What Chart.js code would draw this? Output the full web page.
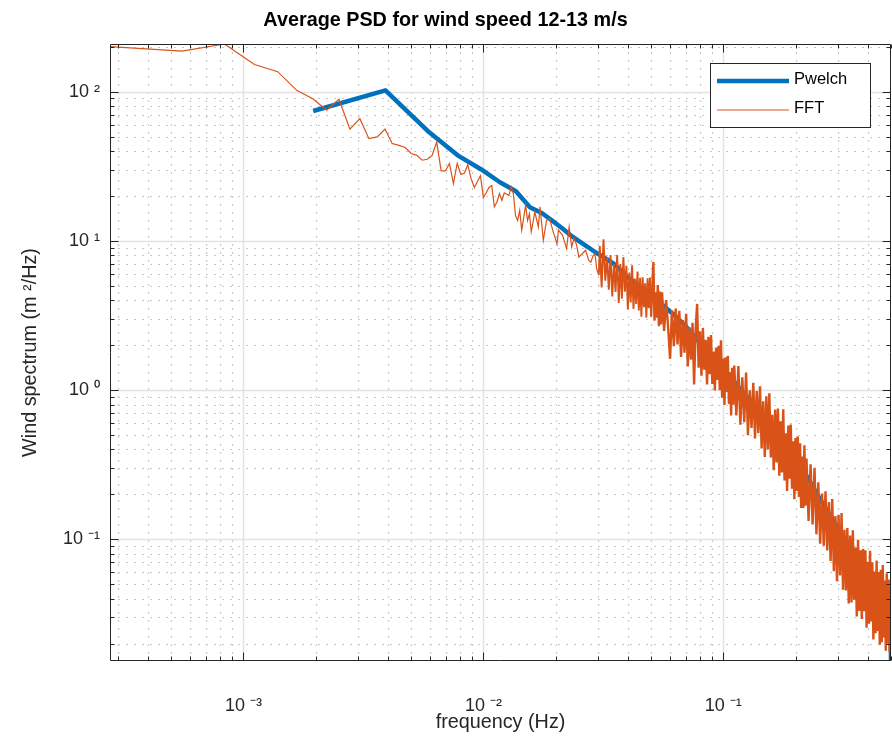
<!DOCTYPE html>
<html>
<head>
<meta charset="utf-8">
<script src="https://cdn.jsdelivr.net/npm/chart.js@4"></script>
<style>
html,body{margin:0;padding:0;background:#fff;}
#wrap{width:892px;height:740px;position:relative;}
</style>
</head>
<body>
<div id="wrap"><canvas id="c" width="892" height="740"></canvas></div>
<script>
// ---------------- data ----------------
const chartTitle = 'Average PSD for wind speed 12-13 m/s';
const xAxisTitle = 'frequency (Hz)';
const yAxisTitle = 'Wind spectrum (m ²/Hz)';
const seriesNames = ['Pwelch', 'FFT'];
const xTickValues = [1e-3, 1e-2, 1e-1];
const xTickLabels = ['10 ⁻³', '10 ⁻²', '10 ⁻¹'];
const yTickValues = [1e-1, 1, 10, 100];
const yTickLabels = ['10 ⁻¹', '10 ⁰', '10 ¹', '10 ²'];
const xRange = [1 / 3600, 0.5];
const yRange = [0.0153, 208.5];

// FFT of a 3600 s record: bin k is at k/3600 Hz
const fftBinWidthHz = 1 / 3600;
const fftBin = [
  1,2,3,4,5,6,7,8,9,10,
  11,12,13,14,15,16,17,18,19,20,
  21,22,23,24,25,26,27,28,29,30,
  31,32,33,34,35,36,37,38,39,40,
  41,
  42,43,44,46,47,48,49,50,51,52,
  54,55,56,57,59,61,62,64,66,68,
  70,73,74,77,80,82,84,86,88,90,
  93,96,99,101,103,105,107,109,
  110,112,114,116,118,120,122,124,126,128,
  130,132,134,136,138,140,142,144,146,148,
  150,152,154,156,158,160,162,164,166,168,
  170,172,174,176,178,180,182,184,186,188,
  190,192,194,196,198,200,
  204,208,212,216,220,224,228,232,236,240,
  244,248,252,256,260,264,268,272,276,280,
  284,288,292,296,300,304,308,312,316,320,
  324,328,332,336,340,344,348,352,356,360,
  364,368,372,376,380,384,388,392,396,400,
  408,416,424,432,440,448,456,464,472,480,
  488,496,504,512,520,528,536,544,552,560,
  568,576,584,592,600,608,616,624,632,640,
  648,656,664,672,680,688,696,704,712,720,
  728,736,744,752,760,768,776,784,792,800,
  816,832,848,864,880,896,912,928,944,960,
  976,992,1008,1024,1040,1056,1072,1088,1104,1120,
  1136,1152,1168,1184,1200,1216,1232,1248,1264,1280,
  1296,1312,1328,1344,1360,1376,1392,1408,1424,1440,
  1456,1472,1488,1504,1520,1536,1552,1568,1584,1600,
  1616,1632,1648,1664,1680,1696,1712,1728,1744,1760,
  1776,1792,1800
];
const fftPsd = [
  200,187,208.5,152,136,102,89.7,75,88.8,56,
  65.9,48.4,49.7,56.2,44.9,43.6,42.2,38.5,37.4,34.7,
  35.2,37.4,45.9,29.4,29.4,33,24.2,33,27.9,28.5,
  32.4,26,22.8,25,27.3,19.5,21,22.8,23.5,16.9,
  18.2,
  20.7,18.7,21.0,20.2,23.0,20.7,14.8,13.7,16.0,11.8,
  17.3,13.7,15.2,11.5,15.6,12.4,16.9,10.1,13.7,14.1,
  11.8,9.55,11.8,10.9,8.87,12.4,9.1,10.4,9.4,7.8,
  8.2,8.65,7.4,7.2,7.9,8.2,6.4,5.9,
  9.24,4.87,10.23,5.40,7.76,4.70,8.03,4.24,6.99,4.55,
  8.05,3.83,7.00,4.10,7.78,4.56,6.80,3.47,6.13,3.87,
  6.85,3.50,5.60,3.78,6.24,3.42,5.65,3.10,5.70,3.59,
  5.19,3.06,5.62,3.54,5.68,3.12,4.83,7.22,2.92,4.52,
  3.06,5.06,2.68,4.57,2.75,4.52,
  2.49,4.01,2.63,1.62,3.43,1.97,3.52,2.02,3.40,1.67,
  2.95,1.78,3.25,1.44,2.64,1.60,2.82,1.09,2.54,3.78,
  1.41,2.48,1.25,2.61,1.37,2.17,1.09,2.28,1.28,2.34,
  1.10,1.81,0.993,1.93,1.17,1.97,1.00,2.16,0.890,1.63,
  0.795,1.66,0.970,1.70,0.807,1.32,0.676,1.41,0.798,1.46,
  0.677,1.45,0.587,1.22,0.610,1.31,0.499,0.997,0.558,1.12,
  0.475,0.986,0.514,1.06,0.406,0.842,0.357,0.909,0.400,0.953,
  0.353,0.682,0.290,0.742,0.327,0.753,0.267,0.618,0.281,0.743,
  0.248,0.514,0.211,0.579,0.255,0.587,0.218,0.454,0.186,0.478,
  0.211,0.488,0.192,0.440,0.162,0.359,0.162,0.427,0.168,0.348,
  0.133,0.318,0.126,0.302,0.108,0.241,0.0936,0.203,0.0906,0.210,
  0.0843,0.178,0.0715,0.186,0.0612,0.143,0.0524,0.146,0.0573,0.150,
  0.0460,0.116,0.0455,0.119,0.0372,0.106,0.0377,0.115,0.0394,0.0881,
  0.0304,0.0990,0.0331,0.0846,0.0293,0.0863,0.0330,0.0845,0.0256,0.0708,
  0.0272,0.0838,0.0282,0.0701,0.0213,0.0609,0.0235,0.0721,0.0243,0.0605,
  0.0197,0.0625,0.0204,0.0673,0.0220,0.0530,0.0179,0.0593,0.0200,0.0537,
  0.0176,0.0456,0.0269
];

// Welch estimate with 512-sample segments: bin k is at k/512 Hz
const pwelchBinWidthHz = 1 / 512;
const pwelchBin = [1,2,3,4,5,6,7,8,9,10,11,12,13,14,15,16,18,20,22,24,26,28,32,36,40,45,51,57,64,72,80,90,100,114,128,144,160,180,200,228,255,256];
const pwelchPsd = [74.2,102,54.5,37.4,30.2,24.7,21.5,16.8,15.3,13.5,12.0,10.7,9.8,9.06,8.39,7.89,6.97,5.89,5.2,4.59,4.19,3.82,3.18,2.64,2.16,1.71,1.38,1.13,0.91,0.733,0.591,0.462,0.361,0.265,0.192,0.141,0.107,0.0809,0.0622,0.0471,0.0392,0.0153];

// ---------------- styling ----------------
const FONT = '"Liberation Sans", Arial, Helvetica, sans-serif';
const axisColor = '#262626';
const blue = '#0072BD';
const orange = '#D95319';

Chart.defaults.font.family = FONT;
Chart.defaults.color = axisColor;

function decadeTicks(min, max) {
  const major = [], minor = [];
  for (let e = Math.floor(Math.log10(min)); e <= Math.ceil(Math.log10(max)); e++) {
    for (let m = 1; m <= 9; m++) {
      const v = m * Math.pow(10, e);
      if (v < min * 0.9999 || v > max * 1.0001) continue;
      (m === 1 ? major : minor).push(v);
    }
  }
  return {major, minor};
}

const matlabAxes = {
  id: 'matlabAxes',
  beforeDatasetsDraw(chart) {
    const {ctx, chartArea: a, scales: {x, y}} = chart;
    const xt = decadeTicks(x.min, x.max), yt = decadeTicks(y.min, y.max);
    ctx.save();
    ctx.beginPath(); ctx.rect(a.left, a.top, a.right - a.left, a.bottom - a.top); ctx.clip();
    ctx.lineWidth = 1.2;
    ctx.strokeStyle = '#c8c8c8';
    ctx.setLineDash([2, 6]);
    ctx.beginPath();
    xt.minor.forEach(v => { const p = Math.round(x.getPixelForValue(v)) + 0.5; ctx.moveTo(p, a.top); ctx.lineTo(p, a.bottom); });
    yt.minor.forEach(v => { const p = Math.round(y.getPixelForValue(v)) + 0.5; ctx.moveTo(a.left, p); ctx.lineTo(a.right, p); });
    ctx.stroke();
    ctx.setLineDash([]);
    ctx.lineWidth = 1.5;
    ctx.strokeStyle = '#e2e2e2';
    ctx.beginPath();
    xt.major.forEach(v => { const p = Math.round(x.getPixelForValue(v)) + 0.5; ctx.moveTo(p, a.top); ctx.lineTo(p, a.bottom); });
    yt.major.forEach(v => { const p = Math.round(y.getPixelForValue(v)) + 0.5; ctx.moveTo(a.left, p); ctx.lineTo(a.right, p); });
    ctx.stroke();
    ctx.restore();
  },
  afterDatasetsDraw(chart) {
    const {ctx, chartArea: a, scales: {x, y}} = chart;
    const xt = decadeTicks(x.min, x.max), yt = decadeTicks(y.min, y.max);
    const L = a.left + 0.5, R = a.right - 0.5, T = a.top + 0.5, B = a.bottom - 0.5;
    ctx.save();
    ctx.strokeStyle = axisColor;
    ctx.lineWidth = 1;
    ctx.beginPath();
    ctx.rect(L, T, R - L, B - T);
    const tick = (v, len, axis) => {
      if (axis === 'x') {
        const p = Math.round(x.getPixelForValue(v)) + 0.5;
        ctx.moveTo(p, B); ctx.lineTo(p, B - len);
        ctx.moveTo(p, T); ctx.lineTo(p, T + len);
      } else {
        const p = Math.round(y.getPixelForValue(v)) + 0.5;
        ctx.moveTo(L, p); ctx.lineTo(L + len, p);
        ctx.moveTo(R, p); ctx.lineTo(R - len, p);
      }
    };
    xt.major.forEach(v => tick(v, 8, 'x'));
    xt.minor.forEach(v => tick(v, 4, 'x'));
    yt.major.forEach(v => tick(v, 8, 'y'));
    yt.minor.forEach(v => tick(v, 4, 'y'));
    ctx.stroke();
    ctx.restore();
  },
  afterDraw(chart) {
    const {ctx} = chart;
    const ds = chart.data.datasets;
    const bx = 710.5, by = 63.5, bw = 160, bh = 64;
    ctx.save();
    ctx.fillStyle = '#ffffff';
    ctx.fillRect(bx, by, bw, bh);
    ctx.strokeStyle = axisColor;
    ctx.lineWidth = 1;
    ctx.strokeRect(bx, by, bw, bh);
    const rows = [{d: ds[0], y: 81, w: 4.5}, {d: ds[1], y: 110, w: 1.2}];
    rows.forEach(r => {
      ctx.strokeStyle = r.d.borderColor;
      ctx.lineWidth = r.w;
      ctx.beginPath(); ctx.moveTo(717, r.y); ctx.lineTo(789, r.y); ctx.stroke();
      ctx.fillStyle = '#000';
      ctx.font = '16.5px ' + FONT;
      ctx.textAlign = 'left';
      ctx.textBaseline = 'middle';
      ctx.fillText(r.d.label, 794, r.y - 2);
    });
    ctx.restore();
  }
};

const pwelchData = pwelchBin.map((k, i) => ({x: k * pwelchBinWidthHz, y: pwelchPsd[i]}));
const fftData = fftBin.map((k, i) => ({x: k * fftBinWidthHz, y: fftPsd[i]}));

new Chart(document.getElementById('c'), {
  type: 'line',
  data: {
    datasets: [
      {label: seriesNames[0], data: pwelchData, borderColor: blue, backgroundColor: blue,
       borderWidth: 4.5, pointRadius: 0, tension: 0, fill: false, order: 2, borderJoinStyle: 'round'},
      {label: seriesNames[1], data: fftData, borderColor: orange, backgroundColor: orange,
       borderWidth: 1.2, pointRadius: 0, tension: 0, fill: false, order: 1,
       segment: {borderWidth: c => (c.p0.parsed.x >= 0.05 ? 2.4 : (c.p0.parsed.x >= 0.03 ? 1.9 : 1.2))}}
    ]
  },
  options: {
    responsive: false,
    animation: false,
    layout: {padding: {left: 0, right: 1, top: 0, bottom: 0}},
    plugins: {
      legend: {display: false},
      tooltip: {enabled: false},
      title: {display: true, text: chartTitle, color: '#000',
              font: {size: 19.8, weight: 'bold', family: FONT, lineHeight: 1.2},
              padding: {top: 9, bottom: 11.24}}
    },
    scales: {
      x: {
        type: 'logarithmic', min: xRange[0], max: xRange[1],
        grid: {display: false, drawTicks: false}, border: {display: false},
        afterBuildTicks: s => { s.ticks = xTickValues.map(v => ({value: v})); },
        afterFit: s => { s.height = 79; },
        ticks: {autoSkip: false, maxRotation: 0, padding: 34, color: axisColor,
                font: {size: 18, family: FONT},
                callback: v => { const i = xTickValues.findIndex(t => Math.abs(t - v) / t < 1e-6); return i >= 0 ? xTickLabels[i] : ''; }},
        title: {display: true, text: xAxisTitle, color: axisColor,
                font: {size: 19.8, family: FONT, lineHeight: 1.2}, padding: {top: 0, bottom: 6}}
      },
      y: {
        type: 'logarithmic', min: yRange[0], max: yRange[1],
        grid: {display: false, drawTicks: false}, border: {display: false},
        afterBuildTicks: s => { s.ticks = yTickValues.map(v => ({value: v})); },
        afterFit: s => { s.width = 110; },
        ticks: {autoSkip: false, padding: 10, color: axisColor,
                font: {size: 18, family: FONT},
                callback: v => { const i = yTickValues.findIndex(t => Math.abs(t - v) / t < 1e-6); return i >= 0 ? yTickLabels[i] : ''; }},
        title: {display: true, text: yAxisTitle, color: axisColor,
                font: {size: 19.8, family: FONT, lineHeight: 1.2}, padding: {top: 19, bottom: 0}}
      }
    }
  },
  plugins: [matlabAxes]
});
</script>
</body>
</html>
